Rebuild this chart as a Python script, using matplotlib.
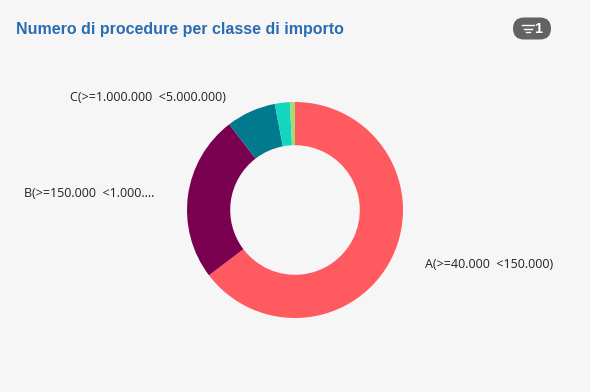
import matplotlib
matplotlib.use('Agg')
import matplotlib.pyplot as plt
from matplotlib.patches import FancyBboxPatch

title = 'Numero di procedure per classe di importo'
categories = ['A(>=40.000  <150.000)', 'B(>=150.000  <1.000....', 'C(>=1.000.000  <5.000.000)', 'D', 'E']
values = [64.6, 24.9, 7.4, 2.25, 0.75]
colors = ['#FF5A5F', '#7A0050', '#007A8C', '#12D6BE', '#A8D86E']
shown_labels = categories[:3]
W, H = 590, 392

fig = plt.figure(figsize=(W / 100, H / 100), dpi=100, facecolor='#F6F6F6')

# pixel overlay for the header bits
bg = fig.add_axes([0, 0, 1, 1])
bg.set_xlim(0, W)
bg.set_ylim(H, 0)
bg.axis('off')

# donut, axes box is set so the radius is 108 px around (295, 210)
ax = fig.add_axes([(295 - 108) / W, 1 - (210 + 108) / H, 216 / W, 216 / H])
ax.pie(values, colors=colors, startangle=90, counterclock=False, radius=1,
       wedgeprops={'width': 0.4, 'linewidth': 0})
ax.set_xlim(-1, 1)
ax.set_ylim(-1, 1)

bg.text(16, 29, title, color='#2A6DB0', fontsize=11.53, fontweight='bold',
        family='Liberation Sans', va='center', ha='left')

label_pos = [(425, 264, 'left'), (154, 193, 'right'), (226, 97, 'right')]
for lab, (x, y, ha) in zip(shown_labels, label_pos):
    bg.text(x, y, lab, color='#222222', fontsize=9, family='Open Sans', va='center', ha=ha)

# filter badge
bg.add_patch(FancyBboxPatch((513, 17.5), 38, 22, boxstyle='round,pad=0,rounding_size=11',
                            fc='#626262', ec='none'))
for y, x0, x1 in [(25, 522, 534), (28.5, 524, 532), (32, 526, 530)]:
    bg.plot([x0, x1], [y, y], color='white', lw=1)
bg.text(538.5, 28.5, '1', color='white', fontsize=10.5, fontweight='bold',
        family='Liberation Sans', va='center', ha='center')

fig.savefig('out.png', dpi=100, facecolor=fig.get_facecolor())
